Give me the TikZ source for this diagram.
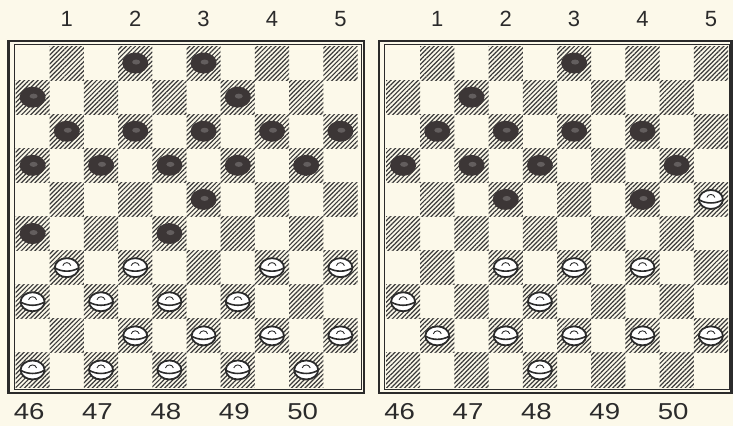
\documentclass[tikz,border=0pt]{standalone}
\usepackage{fontspec}
\setmainfont{Liberation Sans}
\usetikzlibrary{patterns.meta}
\definecolor{paper}{HTML}{FCF9EA}
\definecolor{ink}{HTML}{2B2B2B}
\definecolor{hatchc}{HTML}{3A3A3A}
\definecolor{pcblack}{HTML}{3C3636}
\tikzset{
  hatchsq/.style={pattern={Lines[angle=45,distance=3.2pt,line width=1.2pt]},pattern color=hatchc},
  outerframe/.style={draw=ink,line width=2.2pt},
  innerframe/.style={draw=ink,line width=0.9pt},
  toplab/.style={text=ink,font=\fontsize{22}{24}\selectfont,inner sep=0pt},
  botlab/.style={text=ink,font=\fontsize{23}{25}\selectfont,inner sep=0pt,xscale=1.2},
  blackman/.pic={\fill[pcblack] (0,0) ellipse [x radius=13,y radius=10.5];
                 \fill[pcblack!80!white] (1,-1) ellipse [x radius=4,y radius=2.5];},
  whiteman/.pic={\draw[ink,line width=1.8pt,fill=white] (0,0) ellipse [x radius=12,y radius=9.5];
                 \draw[ink,line width=1.6pt] (-11.5,0.5) .. controls (-5,4.5) and (5,4.5) .. (11.5,0.5);
                 \draw[ink,line width=0.9pt] (-4,-2) .. controls (-3,-6) and (3,-6) .. (4,-2);}
}
\newcommand\sqw{34.2}
\newcommand\sqh{34.1}
\begin{document}
\begin{tikzpicture}[x=1pt,y=-1pt]
\fill[paper] (0,0) rectangle (733,426);
\useasboundingbox (0,0) rectangle (733,426);
% boards: name/x0/right inner/right outer/black squares/white squares
\foreach \bd/\xo/\ri/\ro/\bl/\wh in {
  L/15.5/345.5/348.5/{2,3,6,9,11,12,13,14,15,16,17,18,19,20,23,26,28}/{31,32,34,35,36,37,38,39,42,43,44,45,46,47,48,49,50},
  R/386/343/345.5/{3,7,11,12,13,14,16,17,18,20,22,24}/{25,32,33,34,36,38,41,42,43,44,45,48}}{
  \begin{scope}[shift={(\xo,46)}]
    \foreach \r in {0,...,9}{
      \foreach \c in {0,...,9}{
        \pgfmathtruncatemacro\pp{mod(\r+\c,2)}
        \ifnum\pp=1
          \fill[hatchsq] (\c*\sqw,\r*\sqh) rectangle ++(\sqw,\sqh);
        \fi
      }
    }
    \draw[innerframe] (-1.5,-1.5) rectangle (\ri,343.5);
    \draw[outerframe] (-7,-5) rectangle (\ro,347);
    \foreach \n in \bl {
      \pgfmathtruncatemacro\rr{int((\n-1)/5)}
      \pgfmathtruncatemacro\cc{2*mod(\n-1,5)+1-mod(\rr,2)}
      \pic at ({(\cc+0.5)*\sqw},{(\rr+0.5)*\sqh}) {blackman};
    }
    \foreach \n in \wh {
      \pgfmathtruncatemacro\rr{int((\n-1)/5)}
      \pgfmathtruncatemacro\cc{2*mod(\n-1,5)+1-mod(\rr,2)}
      \pic at ({(\cc+0.5)*\sqw},{(\rr+0.5)*\sqh}) {whiteman};
    }
    \foreach \k/\t/\b in {0/1/46,1/2/47,2/3/48,3/4/49,4/5/50}{
      \node[toplab] (top\bd\t) at ({(2*\k+1.5)*\sqw},-27) {\t};
      \node[botlab] (bot\bd\b) at ({(2*\k+0.5)*\sqw-3.5},366) {\b};
    }
  \end{scope}
}
\end{tikzpicture}
\end{document}
